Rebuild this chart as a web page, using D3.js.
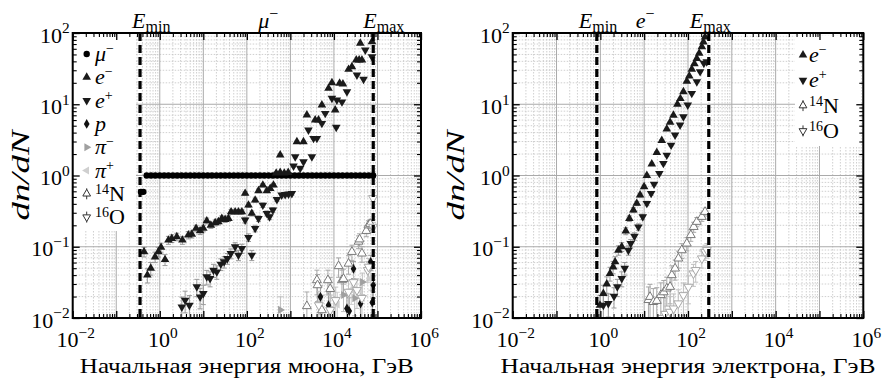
<!DOCTYPE html>
<html><head><meta charset="utf-8">
<script src="https://cdn.jsdelivr.net/npm/d3@7"></script>
<style>body{margin:0;background:#fff}</style>
</head><body><svg id="c" width="884" height="381"></svg>
<script>
// ---------------- DATA (energy GeV, dn/dN) ----------------
const muLeft = [[0.37,0.59],[0.42,0.59],[0.50,1],[0.63,1],[0.79,1],[1.00,1],[1.26,1],[1.58,1],[2.00,1],[2.51,1],[3.16,1],[3.98,1],[5.01,1],[6.31,1],[7.94,1],[10.0,1],[12.6,1],[15.8,1],[20.0,1],[25.1,1],[31.6,1],[39.8,1],[50.1,1],[63.1,1],[79.4,1],[100,1],[126,1],[158,1],[200,1],[251,1],[316,1],[398,1],[501,1],[631,1],[794,1],[1000,1],[1260,1],[1580,1],[2000,1],[2510,1],[3160,1],[3980,1],[5010,1],[6310,1],[7940,1],[10000,1],[12600,1],[15800,1],[20000,1],[25100,1],[31600,1],[39800,1],[50100,1],[63100,1],[79400,1]];
const eMinusLeft = [[0.435,0.085],[0.519,0.040],[0.621,0.050],[0.780,0.072],[0.929,0.085],[1.07,0.098],[1.32,0.066],[1.58,0.124],[1.89,0.131],[2.46,0.138],[3.31,0.124],[4.54,0.146],[5.44,0.150],[6.83,0.181],[8.43,0.167],[10.0,0.181],[12.0,0.231],[14.9,0.201],[18.7,0.217],[22.2,0.224],[26.6,0.249],[31.7,0.241],[37.8,0.249],[43.5,0.309],[53.8,0.309],[64.1,0.309],[76.7,0.309],[91.4,0.561],[109,0.384],[130,0.294],[155,0.451],[185,0.610],[233,0.733],[288,0.610],[344,0.659],[409,0.733],[472,1.08],[583,1.10],[724,1.08],[891,1.10],[583,1.94],[1410,2.97],[2000,2.97],[2390,7.05],[3710,6.0],[4430,6.0],[5290,9.75],[7520,16.7],[9000,20.1],[10700,8.3],[13500,19.7],[16100,19.2],[21700,30.9],[25900,33.6],[32600,41.8],[38000,41.8],[44000,41.8],[40300,71.7],[74800,75.5]];
const ePlusLeft = [[3.21,0.0143],[3.82,0.0178],[4.79,0.0151],[7.09,0.0274],[8.44,0.0198],[10.0,0.0221],[12.0,0.0378],[14.3,0.0359],[17.1,0.0469],[20.4,0.0444],[25.2,0.0570],[30.1,0.0614],[35.8,0.0685],[42.9,0.0805],[53.8,0.0998],[64.1,0.0763],[76.7,0.0946],[91.4,0.237],[109,0.135],[130,0.0763],[155,0.181],[185,0.249],[233,0.384],[288,0.294],[331,0.263],[396,0.327],[490,0.461],[631,0.531],[759,0.54],[906,0.55],[1080,0.56],[1180,1.36],[1680,1.26],[1290,1.83],[2000,1.56],[3120,1.83],[2600,4.35],[3400,3.32],[4060,3.32],[5290,5.39],[11300,4.74],[6310,7.45],[9000,12.1],[11700,11.5],[15300,10.8],[19900,15.0],[33800,25.7],[47900,22.4],[52500,57.7],[74800,46.4]];
const pLeft = [[4900,0.0198],[7520,0.0151],[19900,0.0136],[22500,0.0125],[28200,0.049],[41000,0.016],[70000,0.061],[80000,0.029],[76000,0.0165]];
const piMinusLeft = [[590,0.013],[16600,0.021],[30000,0.019],[45000,0.032],[62000,0.047]];
const piPlusLeft = [[12000,0.0155],[25000,0.025],[40000,0.0246],[70000,0.036]];
const n14Left = [[2390,0.0147],[4070,0.034],[4200,0.0289],[5300,0.0129],[7280,0.034],[8220,0.0256],[12800,0.0535],[15300,0.034],[16600,0.0354],[21700,0.058],[25900,0.0848],[36800,0.118],[38800,0.127],[44000,0.0805],[55300,0.167],[62000,0.2],[68300,0.21]];
const o16Left = [[4500,0.0151],[8200,0.0129],[11000,0.0178],[21700,0.0233],[28200,0.0318],[33800,0.0246],[44000,0.0191],[60000,0.047],[62500,0.0523],[79000,0.19],[79000,0.48]];

const eMinusRight = [[0.98,0.0151],[1.17,0.0221],[1.40,0.030],[1.66,0.0422],[1.95,0.052],[2.17,0.0614],[2.58,0.0895],[3.08,0.0998],[3.80,0.166],[4.59,0.249],[5.67,0.327],[6.77,0.406],[8.06,0.531],[9.95,0.694],[11.5,1.0],[14.9,1.45],[19.4,2.1],[25.2,3.1],[32.8,4.5],[39,5.6],[46.5,7.0],[57.3,10.0],[67,12],[78.5,15],[94,21],[107,25],[122,31],[140,37],[159,44],[180,52],[207,64],[225,75],[245,88]];
const ePlusRight = [[1.17,0.0151],[1.52,0.016],[2.05,0.0202],[2.44,0.0274],[3.08,0.0359],[3.6,0.05],[4.36,0.0895],[4.94,0.111],[6.0,0.14],[7.38,0.19],[9.29,0.263],[11.5,0.406],[14.4,0.561],[16.8,0.757],[22.2,1.07],[27.4,1.48],[32.8,1.93],[41.1,2.67],[50.7,3.69],[65.9,5.1],[78.5,6.68],[98.8,9.75],[122,14.2],[159,20.7],[189,28.7],[230,37.5],[268,39.5]];
const n14Right = [[12.5,0.0179],[13.6,0.0198],[16.2,0.0168],[19.4,0.0174],[24,0.021],[28,0.023],[32.8,0.026],[39,0.0274],[42.7,0.040],[50.7,0.0496],[60.4,0.0685],[72.1,0.0895],[93.9,0.111],[116,0.146],[135,0.19],[159,0.224],[207,0.263],[245,0.309]];
const o16Right = [[30,0.0114],[39,0.0122],[47,0.0136],[60,0.016],[78.5,0.0209],[102,0.0274],[133,0.0422],[150,0.047],[207,0.0685],[245,0.0848],[270,0.09]];

const xTickExps = [-2, 0, 2, 4, 6];
const yTickExps = [-2, -1, 0, 1, 2];
const xLabels = ["Начальная энергия мюона, ГэВ", "Начальная энергия электрона, ГэВ"];
const yLabel = "dn/dN";
const energyLimits = [[0.352, 80000], [0.83, 298]];
const primaries = [["μ", "−"], ["e", "−"]];

// ---------------- STYLE ----------------
const FONT = "'Liberation Serif','DejaVu Serif',serif";
const STYLES = {
  mu:   {sym:d3.symbolCircle, size:32, rot:0, fill:'#000', stroke:'none', err:null},
  em:   {sym:d3.symbolTriangle, size:32, rot:0, fill:'#1a1a1a', stroke:'none', err:'#9a9a9a', k:0.045},
  ep:   {sym:d3.symbolTriangle, size:32, rot:180, fill:'#1a1a1a', stroke:'none', err:'#9a9a9a', k:0.045},
  p:    {sym:d3.symbolDiamond, size:28, rot:0, fill:'#111', stroke:'none', err:'#9a9a9a', k:0.06},
  pim:  {sym:d3.symbolTriangle, size:28, rot:90, fill:'#a0a0a0', stroke:'none', err:'#c0c0c0', k:0.06},
  pip:  {sym:d3.symbolTriangle, size:28, rot:-90, fill:'#cfcfcf', stroke:'none', err:'#d0d0d0', k:0.06},
  n14:  {sym:d3.symbolTriangle, size:34, rot:0, fill:'#fff', stroke:'#7a7a7a', err:'#a8a8a8', k:0.07},
  o16:  {sym:d3.symbolTriangle, size:34, rot:180, fill:'#fff', stroke:'#a8a8a8', err:'#c0c0c0', k:0.07}
};

const svg = d3.select('#c');
svg.append('rect').attr('width',884).attr('height',381).attr('fill','#fff');
const Y0 = 33, Y1 = 318;

function powLabel(g, x, y, exp, anchor, size) {
  const t = g.append('text').attr('x',x).attr('y',y).attr('text-anchor',anchor)
    .style('font-family',FONT).style('font-size',size+'px').attr('fill','#000');
  t.append('tspan').text('10');
  t.append('tspan').attr('dy',-0.42*size).style('font-size',(size*0.7)+'px')
    .text(exp < 0 ? '−' + (-exp) : String(exp));
}

function drawPanel(cfg, idx) {
  const x = d3.scaleLog().domain([1e-2,1e6]).range([cfg.x0, cfg.x1]);
  const y = d3.scaleLog().domain([1e-2,1e2]).range([Y1, Y0]);
  const g = svg.append('g');
  const clipId = 'clip'+idx;
  svg.append('clipPath').attr('id',clipId).append('rect')
    .attr('x',cfg.x0).attr('y',Y0).attr('width',cfg.x1-cfg.x0).attr('height',Y1-Y0);

  const minorX = [], minorY = [];
  for (let e=-2; e<6; e++) for (let k=2; k<10; k++) minorX.push(k*Math.pow(10,e));
  for (let e=-2; e<2; e++) for (let k=2; k<10; k++) minorY.push(k*Math.pow(10,e));
  const majorX = d3.range(-2,7).map(e=>Math.pow(10,e));
  const majorY = d3.range(-2,3).map(e=>Math.pow(10,e));

  // grids
  const grid = g.append('g');
  grid.selectAll('.mgx').data(minorX).join('line')
    .attr('x1',d=>x(d)).attr('x2',d=>x(d)).attr('y1',Y0).attr('y2',Y1)
    .attr('stroke','#c4c4c4').attr('stroke-width',0.8).attr('stroke-dasharray','1.5,1.5');
  grid.selectAll('.mgy').data(minorY).join('line')
    .attr('y1',d=>y(d)).attr('y2',d=>y(d)).attr('x1',cfg.x0).attr('x2',cfg.x1)
    .attr('stroke','#c4c4c4').attr('stroke-width',0.8).attr('stroke-dasharray','1.5,1.5');
  grid.selectAll('.Mgx').data(majorX).join('line')
    .attr('x1',d=>x(d)).attr('x2',d=>x(d)).attr('y1',Y0).attr('y2',Y1)
    .attr('stroke','#aaaaaa').attr('stroke-width',1);
  grid.selectAll('.Mgy').data(majorY).join('line')
    .attr('y1',d=>y(d)).attr('y2',d=>y(d)).attr('x1',cfg.x0).attr('x2',cfg.x1)
    .attr('stroke','#aaaaaa').attr('stroke-width',1);

  // data
  const dg = g.append('g').attr('clip-path',`url(#${clipId})`);
  cfg.series.forEach(([data, key]) => {
    const st = STYLES[key];
    if (st.err) {
      const eg = dg.append('g').attr('stroke',st.err).attr('stroke-width',1);
      data.forEach(([E,v]) => {
        const r = Math.min(0.85, st.k/Math.sqrt(v));
        const xa = x(E), ya = y(v*(1-r)), yb = y(v*(1+r));
        eg.append('line').attr('x1',xa).attr('x2',xa).attr('y1',ya).attr('y2',yb);
        eg.append('line').attr('x1',xa-2.5).attr('x2',xa+2.5).attr('y1',ya).attr('y2',ya);
        eg.append('line').attr('x1',xa-2.5).attr('x2',xa+2.5).attr('y1',yb).attr('y2',yb);
      });
    }
  });
  cfg.series.forEach(([data, key]) => {
    const st = STYLES[key];
    dg.append('g').selectAll('path').data(data).join('path')
      .attr('d', d3.symbol(st.sym, st.size))
      .attr('transform', d=>`translate(${x(d[0])},${y(d[1])}) rotate(${st.rot})`)
      .attr('fill', st.fill).attr('stroke', st.stroke).attr('stroke-width', 1);
  });

  // E limits dashed
  energyLimits[idx].forEach(E => {
    g.append('line').attr('x1',x(E)).attr('x2',x(E)).attr('y1',Y0).attr('y2',Y1)
      .attr('stroke','#000').attr('stroke-width',3.2).attr('stroke-dasharray','8,4');
  });

  // legend
  const lg = g.append('g');
  lg.append('rect').attr('x',cfg.leg.bx).attr('y',cfg.leg.by).attr('width',cfg.leg.bw).attr('height',cfg.leg.bh).attr('fill','#fff');
  cfg.leg.items.forEach((it, i) => {
    const yy = cfg.leg.y0 + i*cfg.leg.step;
    const st = STYLES[it.key];
    const nuc = it.key==='n14' || it.key==='o16';
    if (nuc) {
      lg.append('line').attr('x1',cfg.leg.mx).attr('x2',cfg.leg.mx).attr('y1',yy-5.5).attr('y2',yy+5.5).attr('stroke','#333').attr('stroke-width',1);
    }
    lg.append('path').attr('d', d3.symbol(st.sym, nuc ? 26 : st.size))
      .attr('transform',`translate(${cfg.leg.mx},${yy}) rotate(${st.rot})`)
      .attr('fill', st.fill).attr('stroke', nuc ? '#333' : st.stroke).attr('stroke-width',1);
    const t = lg.append('text').attr('x',cfg.leg.tx).attr('y',yy+7)
      .style('font-family',FONT).style('font-size','22px');
    if (it.pre) t.append('tspan').attr('dy',-7).style('font-size','14px').text(it.pre);
    const main = t.append('tspan').text(it.main);
    if (it.pre) main.attr('dy',7);
    if (it.italic) main.style('font-style','italic');
    if (it.sup) t.append('tspan').attr('dy',-8).style('font-size','14px').text(it.sup);
  });

  // frame & ticks
  const axes = [
    [d3.axisBottom(x), `translate(0,${Y1})`, majorX, minorX],
    [d3.axisTop(x), `translate(0,${Y0})`, majorX, minorX],
    [d3.axisLeft(y), `translate(${cfg.x0},0)`, majorY, minorY],
    [d3.axisRight(y), `translate(${cfg.x1},0)`, majorY, minorY]
  ];
  axes.forEach(([ax, tr, maj, min]) => {
    const a1 = g.append('g').attr('transform',tr).call(ax.tickValues(maj).tickSize(-7).tickFormat(()=>''));
    a1.select('.domain').remove();
    a1.selectAll('line').attr('stroke','#000').attr('stroke-width',1.3);
    const a2 = g.append('g').attr('transform',tr).call(ax.tickValues(min).tickSize(-4).tickFormat(()=>''));
    a2.select('.domain').remove();
    a2.selectAll('line').attr('stroke','#000').attr('stroke-width',1.1);
  });
  g.append('rect').attr('x',cfg.x0).attr('y',Y0).attr('width',cfg.x1-cfg.x0).attr('height',Y1-Y0)
    .attr('fill','none').attr('stroke','#000').attr('stroke-width',2);

  // tick labels
  xTickExps.forEach(e => powLabel(g, x(Math.pow(10,e))+3, 347, e, 'middle', 22));
  yTickExps.forEach(e => powLabel(g, cfg.x0-3, y(Math.pow(10,e))+9.5, e, 'end', 22));

  // axis labels
  g.append('text').attr('x',(cfg.x0+cfg.x1)/2).attr('y',373).attr('text-anchor','middle')
    .attr('textLength', cfg.xlw).attr('lengthAdjust','spacingAndGlyphs')
    .style('font-family',FONT).style('font-size','21px').text(xLabels[idx]);
  g.append('text').attr('transform',`translate(${cfg.ylx},${(Y0+Y1)/2}) rotate(-90)`)
    .attr('text-anchor','middle').attr('dominant-baseline','central')
    .attr('textLength', 90).attr('lengthAdjust','spacingAndGlyphs')
    .style('font-family',FONT).style('font-size','25px').style('font-style','italic').text(yLabel);

  // top labels
  const [Emin, Emax] = energyLimits[idx];
  const topLab = (xx, base, sub, anchor) => {
    const t = g.append('text').attr('x',xx).attr('y',28).attr('text-anchor',anchor)
      .style('font-family',FONT).style('font-size','22px');
    t.append('tspan').style('font-style','italic').text(base);
    t.append('tspan').attr('dy',4).style('font-size','16px').text(sub);
  };
  topLab(x(Emin)+cfg.tminOff, 'E', 'min', 'start');
  topLab(x(Emax)+cfg.tmaxOff, 'E', 'max', 'start');
  const pt = g.append('text').attr('x',x(cfg.primE)).attr('y',28).attr('text-anchor','middle')
    .style('font-family',FONT).style('font-size','22px');
  pt.append('tspan').style('font-style','italic').text(primaries[idx][0]);
  pt.append('tspan').attr('dy',-9).style('font-size','16px').text(primaries[idx][1]);
}

drawPanel({
  x0:72.7, x1:421, xlw:334, ylx:20, tminOff:-8, tmaxOff:-10, primE:310,
  series:[[muLeft,'mu'],[pLeft,'p'],[piMinusLeft,'pim'],[piPlusLeft,'pip'],[n14Left,'n14'],[o16Left,'o16'],[ePlusLeft,'ep'],[eMinusLeft,'em']],
  leg:{bx:74, by:35, bw:62, bh:196, mx:86.7, tx:95, y0:54, step:23.3, items:[
    {key:'mu', main:'μ', italic:true, sup:'−'},
    {key:'em', main:'e', italic:true, sup:'−'},
    {key:'ep', main:'e', italic:true, sup:'+'},
    {key:'p', main:'p', italic:true},
    {key:'pim', main:'π', italic:true, sup:'−'},
    {key:'pip', main:'π', italic:true, sup:'+'},
    {key:'n14', pre:'14', main:'N'},
    {key:'o16', pre:'16', main:'O'}
  ]}
}, 0);

drawPanel({
  x0:512.7, x1:863.3, xlw:375, ylx:455, tminOff:-18, tmaxOff:-19, primE:10.5,
  series:[[n14Right,'n14'],[o16Right,'o16'],[ePlusRight,'ep'],[eMinusRight,'em']],
  leg:{bx:795, by:36, bw:66, bh:110, mx:803, tx:809, y0:55, step:25.3, items:[
    {key:'em', main:'e', italic:true, sup:'−'},
    {key:'ep', main:'e', italic:true, sup:'+'},
    {key:'n14', pre:'14', main:'N'},
    {key:'o16', pre:'16', main:'O'}
  ]}
}, 1);
</script>
</body></html>
